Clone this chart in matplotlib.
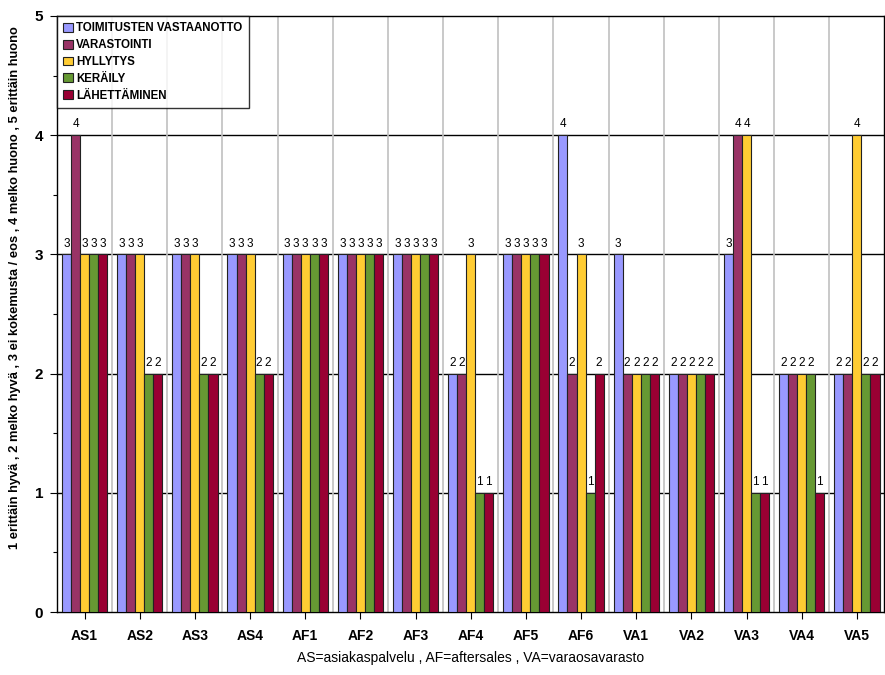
import numpy as np
import matplotlib
matplotlib.use("Agg")
import matplotlib.pyplot as plt
from matplotlib.ticker import MultipleLocator

plt.rcParams["font.family"] = ["Liberation Sans", "DejaVu Sans"]

groups = ["AS1", "AS2", "AS3", "AS4", "AF1", "AF2", "AF3", "AF4",
          "AF5", "AF6", "VA1", "VA2", "VA3", "VA4", "VA5"]
series = ["TOIMITUSTEN VASTAANOTTO", "VARASTOINTI", "HYLLYTYS",
          "KERÄILY", "LÄHETTÄMINEN"]
vastaanotto = [3, 3, 3, 3, 3, 3, 3, 2, 3, 4, 3, 2, 3, 2, 2]
varastointi = [4, 3, 3, 3, 3, 3, 3, 2, 3, 2, 2, 2, 4, 2, 2]
hyllytys    = [3, 3, 3, 3, 3, 3, 3, 3, 3, 3, 2, 2, 4, 2, 4]
kerailu     = [3, 2, 2, 2, 3, 3, 3, 1, 3, 1, 2, 2, 1, 2, 2]
lahetys     = [3, 2, 2, 2, 3, 3, 3, 1, 3, 2, 2, 2, 1, 1, 2]
colors = ["#9999ff", "#993366", "#ffcc33", "#669933", "#990033"]

values = [vastaanotto, varastointi, hyllytys, kerailu, lahetys]

fig = plt.figure(figsize=(8.85, 6.75), dpi=100)
ax = fig.add_axes([0.0644, 0.0933, 0.935, 0.8830])

x = np.arange(len(groups))
w = 0.164
for i, (vals, c, name) in enumerate(zip(values, colors, series)):
    pos = x + (i - 2) * w
    bars = ax.bar(pos, vals, width=w, color=c, edgecolor="#222222",
                  linewidth=0.8, label=name, zorder=3)
    for b, v in zip(bars, vals):
        ax.text(b.get_x() + b.get_width() / 2, v + 0.04, str(v),
                ha="center", va="bottom", fontsize=8.5, zorder=4)

ax.set_xlim(-0.5, len(groups) - 0.5)
ax.set_ylim(0, 5)
ax.set_xticks(x)
ax.set_xticklabels(groups, fontsize=10, fontweight="bold")
ax.yaxis.set_major_locator(MultipleLocator(1))
ax.yaxis.set_minor_locator(MultipleLocator(0.5))
ax.set_yticks([0, 1, 2, 3, 4, 5])
ax.set_yticklabels(["0", "1", "2", "3", "4", "5"], fontsize=11,
                   fontweight="bold")
ax.tick_params(axis="y", which="major", length=5, width=0.8, pad=5)
ax.tick_params(axis="y", which="minor", length=3, width=0.8)
ax.tick_params(axis="x", length=5, width=0.8, pad=7)

# horizontal black grid at whole values, light vertical separators between groups
for yv in range(1, 5):
    ax.axhline(yv, color="black", lw=1.0, zorder=1)
for xb in np.arange(0.5, len(groups) - 0.5, 1):
    ax.axvline(xb, color="#c0c0c0", lw=1.2, zorder=1)

for s in ax.spines.values():
    s.set_color("black")
    s.set_linewidth(1.0)

ax.set_ylabel("1 erittäin hyvä , 2 melko hyvä , 3 ei kokemusta / eos , "
              "4 melko huono , 5 erittäin huono",
              fontsize=9.3, fontweight="bold")
ax.yaxis.set_label_coords(-0.044, 0.545)
ax.set_xlabel("AS=asiakaspalvelu , AF=aftersales , VA=varaosavarasto",
              fontsize=10, labelpad=6)

leg = ax.legend(loc="upper left", bbox_to_anchor=(0.0, 1.0),
                prop={"weight": "bold", "size": 8.3}, frameon=True,
                fancybox=False, edgecolor="black", handlelength=0.8,
                handleheight=0.8, handletextpad=0.3, borderpad=0.55,
                labelspacing=0.42, borderaxespad=0.0)
leg.get_frame().set_linewidth(1.0)
leg.set_zorder(5)

fig.savefig("out.png", dpi=100)
